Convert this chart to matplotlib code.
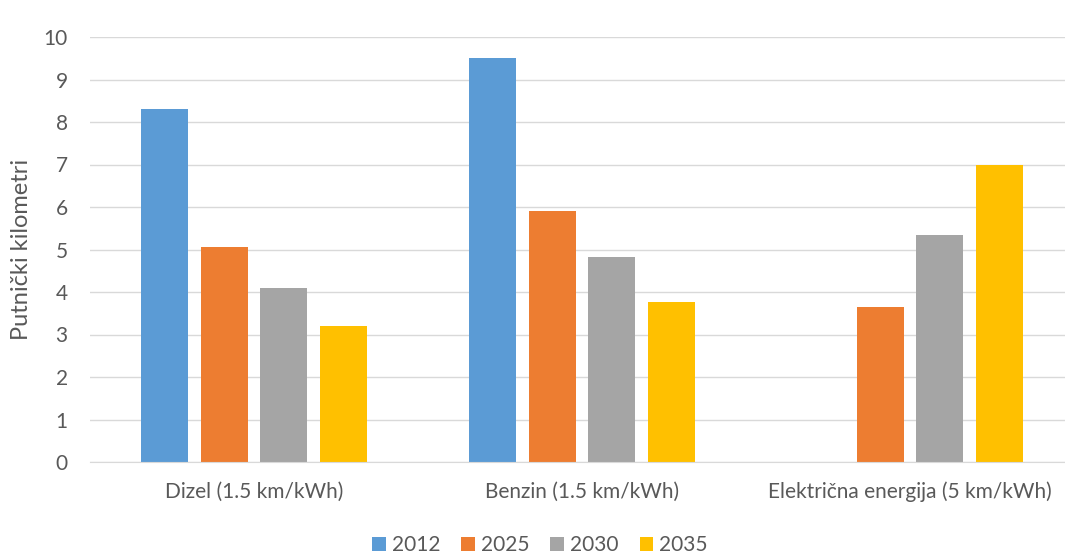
import numpy as np
import matplotlib.pyplot as plt

plt.rcParams['font.family'] = ['Lato', 'DejaVu Sans']

# Data
categories = ["Dizel (1.5 km/kWh)", "Benzin (1.5 km/kWh)", "Električna energija (5 km/kWh)"]
years = ["2012", "2025", "2030", "2035"]
v2012 = [8.3, 9.5, 0.0]
v2025 = [5.05, 5.9, 3.65]
v2030 = [4.1, 4.82, 5.35]
v2035 = [3.2, 3.77, 7.0]
series = [v2012, v2025, v2030, v2035]
colors = ["#5B9BD5", "#ED7D31", "#A5A5A5", "#FFC000"]
text_col = "#595959"

fig = plt.figure(figsize=(10.65, 5.55), dpi=100)
ax = fig.add_axes([90 / 1065, 93 / 555, 984 / 1065, 425 / 555])

x = np.arange(len(categories))
step = 0.181
width = 0.143
for i, (vals, col, yr) in enumerate(zip(series, colors, years)):
    ax.bar(x + (i - 1.5) * step, vals, width, color=col, label=yr, zorder=3)

ax.set_xlim(-0.5, 2.5)
ax.set_ylim(0, 10)
ax.set_yticks(range(0, 11))
ax.grid(axis='y', color='#D9D9D9', linewidth=1, zorder=0)
for s in ['top', 'right', 'left']:
    ax.spines[s].set_visible(False)
ax.spines['bottom'].set_color('#D9D9D9')
ax.spines['bottom'].set_zorder(4)
ax.tick_params(axis='both', length=0, colors=text_col, labelsize=15)
ax.tick_params(axis='y', pad=16)
ax.tick_params(axis='x', pad=14)
ax.set_xticks(x)
ax.set_xticklabels(categories)
ax.set_ylabel("Putnički kilometri", color=text_col, fontsize=17)
ax.yaxis.set_label_coords(-58 / 984, 0.5)

fig.legend(loc='center', bbox_to_anchor=(540 / 1065, 1 - 545 / 555), ncol=4,
           frameon=False, fontsize=15, labelcolor=text_col,
           handlelength=0.65, handleheight=0.65, handletextpad=0.3, columnspacing=1.0)

fig.savefig("out.png", dpi=100)
